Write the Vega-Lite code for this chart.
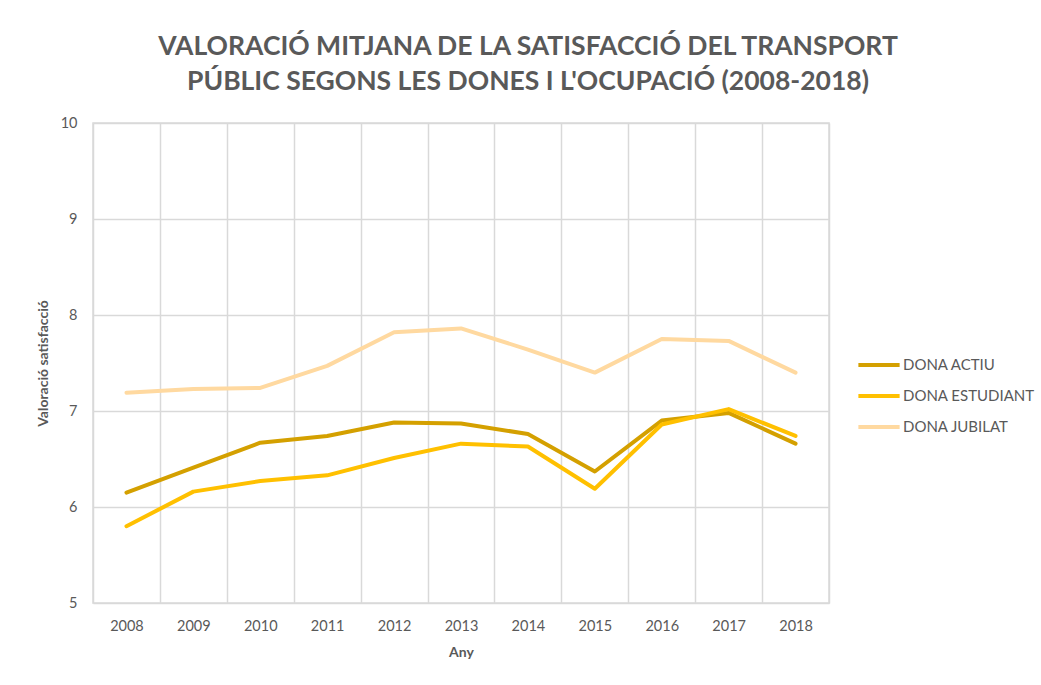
{
  "$schema": "https://vega.github.io/schema/vega-lite/v6.json",
  "autosize": {"type": "none"},
  "padding": {"left": 93, "top": 123, "right": 212, "bottom": 82},
  "width": 736,
  "height": 480,
  "background": "white",
  "title": {
    "text": ["VALORACIÓ MITJANA DE LA SATISFACCIÓ DEL TRANSPORT", "PÚBLIC SEGONS LES DONES I L'OCUPACIÓ (2008-2018)"],
    "font": "Lato",
    "fontSize": 26.5,
    "fontWeight": "bold",
    "color": "#595959",
    "anchor": "middle",
    "frame": "group",
    "dx": 67,
    "lineHeight": 35,
    "offset": 20
  },
  "data": {
    "values": [
      {"any": "2008", "serie": "DONA ACTIU", "valor": 6.15},
      {"any": "2009", "serie": "DONA ACTIU", "valor": 6.41},
      {"any": "2010", "serie": "DONA ACTIU", "valor": 6.67},
      {"any": "2011", "serie": "DONA ACTIU", "valor": 6.74},
      {"any": "2012", "serie": "DONA ACTIU", "valor": 6.88},
      {"any": "2013", "serie": "DONA ACTIU", "valor": 6.87},
      {"any": "2014", "serie": "DONA ACTIU", "valor": 6.76},
      {"any": "2015", "serie": "DONA ACTIU", "valor": 6.37},
      {"any": "2016", "serie": "DONA ACTIU", "valor": 6.90},
      {"any": "2017", "serie": "DONA ACTIU", "valor": 6.98},
      {"any": "2018", "serie": "DONA ACTIU", "valor": 6.66},
      {"any": "2008", "serie": "DONA ESTUDIANT", "valor": 5.80},
      {"any": "2009", "serie": "DONA ESTUDIANT", "valor": 6.16},
      {"any": "2010", "serie": "DONA ESTUDIANT", "valor": 6.27},
      {"any": "2011", "serie": "DONA ESTUDIANT", "valor": 6.33},
      {"any": "2012", "serie": "DONA ESTUDIANT", "valor": 6.51},
      {"any": "2013", "serie": "DONA ESTUDIANT", "valor": 6.66},
      {"any": "2014", "serie": "DONA ESTUDIANT", "valor": 6.63},
      {"any": "2015", "serie": "DONA ESTUDIANT", "valor": 6.19},
      {"any": "2016", "serie": "DONA ESTUDIANT", "valor": 6.86},
      {"any": "2017", "serie": "DONA ESTUDIANT", "valor": 7.02},
      {"any": "2018", "serie": "DONA ESTUDIANT", "valor": 6.74},
      {"any": "2008", "serie": "DONA JUBILAT", "valor": 7.19},
      {"any": "2009", "serie": "DONA JUBILAT", "valor": 7.23},
      {"any": "2010", "serie": "DONA JUBILAT", "valor": 7.24},
      {"any": "2011", "serie": "DONA JUBILAT", "valor": 7.47},
      {"any": "2012", "serie": "DONA JUBILAT", "valor": 7.82},
      {"any": "2013", "serie": "DONA JUBILAT", "valor": 7.86},
      {"any": "2014", "serie": "DONA JUBILAT", "valor": 7.64},
      {"any": "2015", "serie": "DONA JUBILAT", "valor": 7.40},
      {"any": "2016", "serie": "DONA JUBILAT", "valor": 7.75},
      {"any": "2017", "serie": "DONA JUBILAT", "valor": 7.73},
      {"any": "2018", "serie": "DONA JUBILAT", "valor": 7.40}
    ]
  },
  "mark": {"type": "line", "strokeWidth": 4, "strokeJoin": "round", "strokeCap": "round"},
  "encoding": {
    "x": {
      "field": "any",
      "type": "ordinal",
      "scale": {"paddingInner": 0, "paddingOuter": 0},
      "axis": {
        "title": "Any",
        "labelAngle": 0,
        "grid": true,
        "tickBand": "extent",
        "ticks": false,
        "domain": false,
        "labelPadding": 16,
        "titlePadding": 13
      }
    },
    "y": {
      "field": "valor",
      "type": "quantitative",
      "scale": {"domain": [5, 10], "nice": false, "zero": false},
      "axis": {
        "title": "Valoració satisfacció",
        "values": [5, 6, 7, 8, 9, 10],
        "ticks": false,
        "domain": false,
        "labelPadding": 16,
        "titlePadding": 10
      }
    },
    "color": {
      "field": "serie",
      "type": "nominal",
      "scale": {
        "domain": ["DONA ACTIU", "DONA ESTUDIANT", "DONA JUBILAT"],
        "range": ["#D4A000", "#FFC000", "#FFD9A0"]
      },
      "legend": {
        "title": null,
        "orient": "none",
        "legendX": 763,
        "legendY": 219,
        "symbolType": "stroke",
        "symbolSize": 1700,
        "symbolStrokeWidth": 4,
        "labelFont": "Lato",
        "labelFontSize": 15,
        "labelColor": "#595959",
        "labelOffset": 1,
        "rowPadding": -9
      }
    }
  },
  "config": {
    "view": {"stroke": "#D9D9D9", "strokeWidth": 1.5},
    "axis": {
      "labelFont": "Lato",
      "labelFontSize": 14.5,
      "labelColor": "#595959",
      "titleFont": "Lato",
      "titleFontSize": 14,
      "titleFontWeight": "bold",
      "titleColor": "#595959",
      "gridColor": "#D9D9D9",
      "gridWidth": 1.5
    }
  }
}
